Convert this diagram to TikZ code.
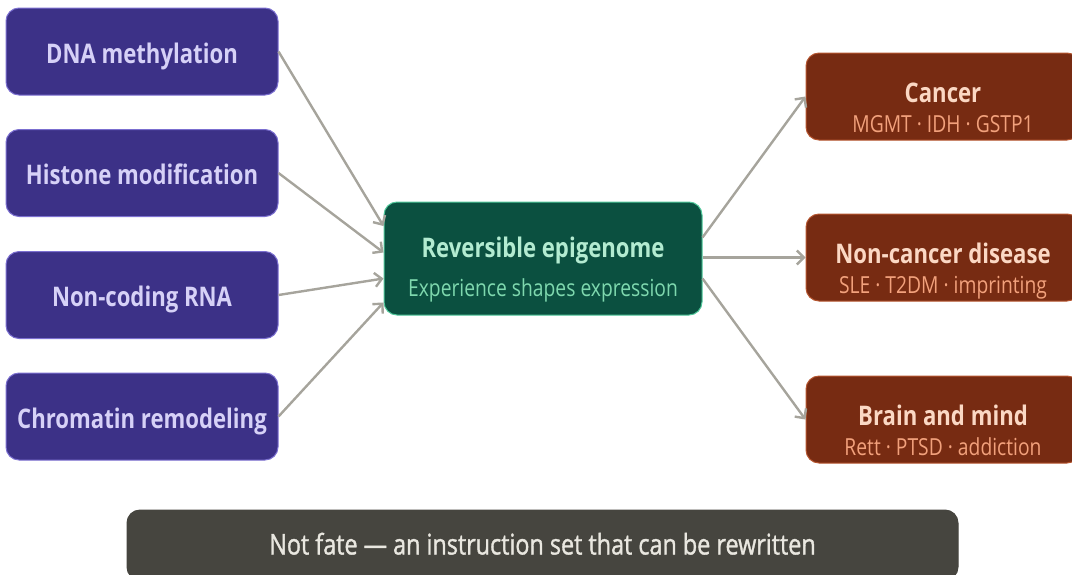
\documentclass[tikz,border=0pt]{standalone}
\usepackage{fontspec}
\setmainfont{Open Sans}[FakeStretch=0.82]
\newfontfamily\medfont{Open Sans}[FakeStretch=0.82, FakeBold=1.2]
\usetikzlibrary{arrows.meta,calc}
\definecolor{leftfill}{HTML}{3C3187}
\definecolor{leftdraw}{HTML}{7B6FD0}
\definecolor{lefttext}{HTML}{D6D1F7}
\definecolor{midfill}{HTML}{0B5040}
\definecolor{middraw}{HTML}{4FC79A}
\definecolor{midtitle}{HTML}{B3EBD1}
\definecolor{midsub}{HTML}{7ED8AE}
\definecolor{rightfill}{HTML}{772B12}
\definecolor{rightdraw}{HTML}{B5552F}
\definecolor{righttitle}{HTML}{FBD8C4}
\definecolor{rightsub}{HTML}{F2A17C}
\definecolor{botfill}{HTML}{46453F}
\definecolor{bottext}{HTML}{E9E7E0}
\definecolor{arrowgray}{HTML}{A6A49C}
\begin{document}
\begin{tikzpicture}[x=1pt,y=-1pt,
  box/.style={rounded corners=13pt, line width=1pt, inner sep=0pt},
  leftbox/.style={box, fill=leftfill, draw=leftdraw, minimum width=272pt, minimum height=87pt},
  midbox/.style={box, fill=midfill, draw=middraw, minimum width=318pt, minimum height=113pt},
  rightbox/.style={box, fill=rightfill, draw=rightdraw, minimum width=274pt, minimum height=87pt},
  botbox/.style={box, fill=botfill, draw=botfill, minimum width=831pt, minimum height=70pt},
  txt/.style={inner sep=0pt, anchor=base},
  lefttxt/.style={txt, text=lefttext, font=\fontsize{27}{30}\selectfont\bfseries},
  midtitletxt/.style={txt, text=midtitle, font=\fontsize{27}{30}\selectfont\bfseries},
  midsubtxt/.style={txt, text=midsub, font=\fontsize{23.5}{27}\selectfont},
  righttitletxt/.style={txt, text=righttitle, font=\fontsize{27}{30}\selectfont\bfseries},
  rightsubtxt/.style={txt, text=rightsub, font=\fontsize{23.5}{27}\selectfont},
  bottxt/.style={txt, text=bottext, font=\medfont\fontsize{28.5}{32}\selectfont},
  conn/.style={draw=arrowgray, line width=2.4pt, -{Straight Barb[length=7pt,width=14pt,line width=2.4pt]}}
]
\useasboundingbox (0,0) rectangle (1072,574);
% left boxes
\node[leftbox] (dna) at (142,51.5) {};
\node[leftbox] (his) at (142,173) {};
\node[leftbox] (ncr) at (142,295) {};
\node[leftbox] (chr) at (142,416.5) {};
\node[lefttxt] (dnat) at ($(dna.center)+(0,11.5)$) {DNA methylation};
\node[lefttxt] (hist) at ($(his.center)+(0,11.5)$) {Histone modification};
\node[lefttxt] (ncrt) at ($(ncr.center)+(0,11.5)$) {Non-coding RNA};
\node[lefttxt] (chrt) at ($(chr.center)+(0,11.5)$) {Chromatin remodeling};
% centre
\node[midbox] (mid) at (543,258.5) {};
\node[midtitletxt] (midt) at ($(mid.center)+(0,-1.5)$) {Reversible epigenome};
\node[midsubtxt] (mids) at ($(mid.center)+(0,38)$) {Experience shapes expression};
% right boxes
\node[rightbox] (can) at (943,96.5) {};
\node[rightbox] (non) at (943,257.5) {};
\node[rightbox] (bra) at (943,419.5) {};
\node[righttitletxt] (cant) at ($(can.center)+(0,5.5)$) {Cancer};
\node[rightsubtxt] (cans) at ($(can.center)+(0,35.5)$) {MGMT · IDH · GSTP1};
\node[righttitletxt] (nont) at ($(non.center)+(0,5.5)$) {Non-cancer disease};
\node[rightsubtxt] (nons) at ($(non.center)+(0,35.5)$) {SLE · T2DM · imprinting};
\node[righttitletxt] (brat) at ($(bra.center)+(0,5.5)$) {Brain and mind};
\node[rightsubtxt] (bras) at ($(bra.center)+(0,35.5)$) {Rett · PTSD · addiction};
% bottom
\node[botbox] (bot) at (542.5,545) {};
\node[bottxt] (bott) at ($(bot.center)+(0,9.5)$) {Not fate — an instruction set that can be rewritten};
% connectors
\draw[conn] (dna.east) -- ($(mid.west)+(0,-32.5)$);
\draw[conn] (his.east) -- ($(mid.west)+(0,-6)$);
\draw[conn] (ncr.east) -- ($(mid.west)+(0,20)$);
\draw[conn] (chr.east) -- ($(mid.west)+(0,44)$);
\draw[conn] ($(mid.east)+(0,-21)$) -- (can.west);
\draw[conn] ($(mid.east)+(0,-1)$) -- (non.west);
\draw[conn] ($(mid.east)+(0,20)$) -- (bra.west);
\end{tikzpicture}
\end{document}
